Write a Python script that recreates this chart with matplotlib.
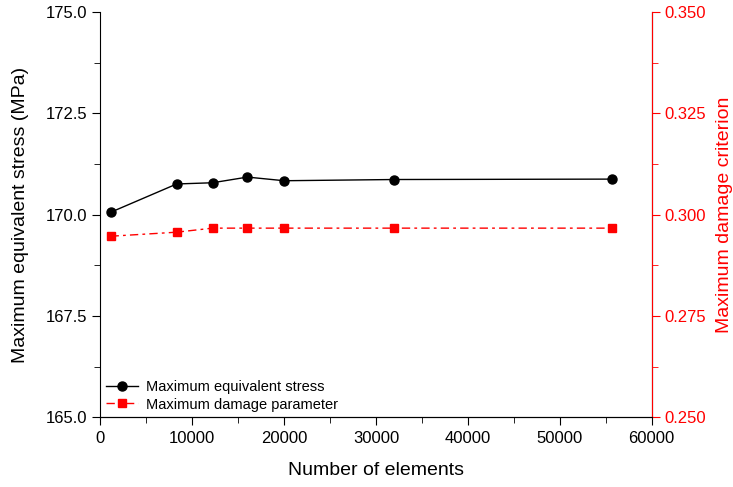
import matplotlib.pyplot as plt
from matplotlib.ticker import MultipleLocator, FormatStrFormatter

plt.rcParams['font.family'] = ['Liberation Sans', 'DejaVu Sans']

# mesh sizes and results
n_elements = [1100, 8300, 12200, 16000, 20000, 32000, 55700]
max_stress = [170.06, 170.76, 170.79, 170.93, 170.84, 170.87, 170.88]
max_damage = [0.2947, 0.2957, 0.2967, 0.2967, 0.2967, 0.2967, 0.2967]

fig, ax = plt.subplots(figsize=(7.33, 4.87), dpi=100)
fig.subplots_adjust(left=0.137, right=0.889, top=0.975, bottom=0.143)

l1, = ax.plot(n_elements, max_stress, color="black", lw=1, marker="o", ms=6.5,
              label="Maximum equivalent stress")
ax.set_xlim(0, 60000)
ax.set_ylim(165, 175)
ax.xaxis.set_major_locator(MultipleLocator(10000))
ax.xaxis.set_minor_locator(MultipleLocator(5000))
ax.yaxis.set_major_locator(MultipleLocator(2.5))
ax.yaxis.set_minor_locator(MultipleLocator(1.25))
ax.yaxis.set_major_formatter(FormatStrFormatter("%.1f"))
ax.tick_params(which="both", direction="out", labelsize=12, color="black")
ax.tick_params(which="major", length=6)
ax.tick_params(which="minor", length=4)
ax.set_xlabel("Number of elements", fontsize=14, labelpad=12)
ax.set_ylabel("Maximum equivalent stress (MPa)", fontsize=14, labelpad=12)
ax.spines["top"].set_visible(False)

ax2 = ax.twinx()
l2, = ax2.plot(n_elements, max_damage, color="red", lw=1, ls=(0, (6, 3, 2, 3)),
               marker="s", ms=6, label="Maximum damage parameter")
ax2.set_ylim(0.25, 0.35)
ax2.yaxis.set_major_locator(MultipleLocator(0.025))
ax2.yaxis.set_minor_locator(MultipleLocator(0.0125))
ax2.yaxis.set_major_formatter(FormatStrFormatter("%.3f"))
ax2.tick_params(which="both", direction="out", labelsize=12, colors="red")
ax2.tick_params(which="major", length=6)
ax2.tick_params(which="minor", length=4)
ax2.set_ylabel("Maximum damage criterion", fontsize=14, color="red", labelpad=7)
ax2.spines["right"].set_color("red")
ax2.spines["top"].set_visible(False)
ax2.spines["left"].set_visible(False)

ax.legend(handles=[l1, l2], loc="lower left", frameon=False, fontsize=10.5,
          handlelength=2.2, handletextpad=0.5, borderaxespad=0.2,
          borderpad=0.2, labelspacing=0.25)

fig.savefig("out.png", dpi=100)
